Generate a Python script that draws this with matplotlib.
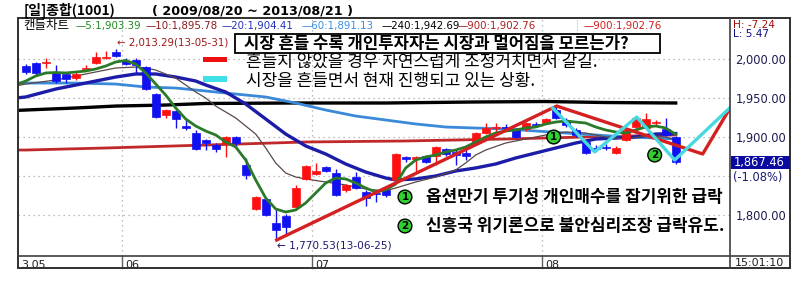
import numpy as np
import matplotlib
matplotlib.use('Agg')
import matplotlib.pyplot as plt
from matplotlib.patches import Rectangle
from matplotlib.lines import Line2D

KR = ['Noto Sans CJK KR', 'DejaVu Sans']
plt.rcParams['font.family'] = KR

W, H = 810, 290

###############################################################################
# daily candles, 2013-05-20 .. 2013-08-21 (index 0..65)
opens = [1991.0, 1994.9, 1994.6, 1983.3, 1980.8, 1975.6, 1986.9, 1994.9, 2001.0, 2009.0,
         1997.4, 1998.7, 1989.7, 1955.1, 1928.2, 1933.3, 1914.1, 1905.1, 1896.2, 1889.7,
         1892.3, 1900.0, 1864.1, 1807.7, 1820.5, 1789.7, 1798.7, 1810.3, 1846.2, 1852.6,
         1861.5, 1853.8, 1832.1, 1848.7, 1829.5, 1828.2, 1832.1, 1844.9, 1874.4, 1871.8,
         1875.6, 1875.6, 1884.6, 1880.8, 1879.5, 1892.3, 1905.1, 1911.5, 1912.8, 1909.0,
         1910.3, 1916.7, 1917.9, 1934.6, 1921.8, 1909.0, 1893.6, 1885.0, 1886.5, 1879.5,
         1896.2, 1912.8, 1911.5, 1917.5, 1910.3, 1900.0]
highs = [1993.6, 1996.2, 2001.3, 1992.3, 1983.3, 1984.6, 1992.3, 2009.0, 2010.3, 2013.29,
         2001.3, 2001.3, 1991.0, 1956.4, 1935.9, 1934.6, 1921.8, 1909.0, 1897.4, 1892.3,
         1901.3, 1901.3, 1873.1, 1824.4, 1821.8, 1809.0, 1801.3, 1838.5, 1864.1, 1866.7,
         1862.8, 1859.0, 1839.7, 1855.1, 1832.1, 1832.1, 1834.6, 1879.5, 1875.6, 1875.6,
         1876.9, 1888.5, 1885.9, 1883.3, 1883.3, 1906.4, 1917.9, 1917.9, 1916.7, 1911.5,
         1919.2, 1919.2, 1924.4, 1938.5, 1924.4, 1911.5, 1894.9, 1889.7, 1891.0, 1888.5,
         1911.5, 1925.6, 1930.8, 1921.8, 1924.4, 1901.3]
lows = [1980.8, 1979.5, 1988.5, 1969.2, 1969.2, 1973.1, 1984.6, 1993.6, 2000.0, 2002.6,
        1992.3, 1982.1, 1960.3, 1924.4, 1924.4, 1911.5, 1909.0, 1883.3, 1883.3, 1880.8,
        1874.4, 1885.9, 1846.2, 1806.4, 1798.7, 1770.53, 1774.4, 1809.0, 1844.9, 1851.3,
        1855.1, 1824.4, 1829.5, 1833.3, 1811.5, 1816.7, 1823.1, 1843.6, 1867.9, 1855.1,
        1866.7, 1864.1, 1875.6, 1864.1, 1870.5, 1891.0, 1903.8, 1905.1, 1907.7, 1898.7,
        1907.7, 1912.8, 1916.7, 1923.1, 1912.8, 1900.0, 1878.2, 1882.1, 1883.3, 1878.2,
        1894.9, 1911.5, 1910.3, 1914.1, 1901.3, 1865.4]
closes = [1983.3, 1982.1, 1995.0, 1971.8, 1974.4, 1980.8, 1987.5, 2002.6, 2001.6, 2003.9,
          1993.6, 1992.3, 1961.5, 1925.6, 1934.6, 1923.1, 1911.5, 1884.6, 1892.3, 1884.6,
          1900.0, 1892.3, 1851.3, 1823.1, 1800.0, 1780.8, 1784.6, 1834.6, 1862.8, 1856.4,
          1856.4, 1825.6, 1838.5, 1834.6, 1821.8, 1826.9, 1825.6, 1878.2, 1871.8, 1874.4,
          1867.9, 1887.2, 1878.2, 1876.9, 1875.6, 1905.1, 1911.5, 1912.8, 1911.5, 1900.0,
          1917.9, 1915.4, 1923.1, 1924.4, 1915.4, 1902.6, 1879.5, 1884.0, 1885.3, 1885.9,
          1909.0, 1924.4, 1923.1, 1918.2, 1902.6, 1867.46]

# moving averages (index, value)
ma5_idx = list(range(-1, 66))
ma5 = [1966.7, 1971.8, 1978.2, 1982.1, 1982.7, 1982.1, 1983.3, 1984.6, 1987.2, 1991.0,
       1996.2, 1998.1, 1993.6, 1982.1, 1968.0, 1953.8, 1937.2, 1923.1, 1914.1, 1907.7,
       1902.6, 1893.6, 1887.2, 1870.5, 1844.9, 1821.8, 1807.7, 1803.8, 1806.4, 1815.4,
       1828.2, 1841.0, 1847.4, 1846.2, 1841.0, 1834.6, 1829.5, 1832.1, 1839.7, 1860.3,
       1870.5, 1874.4, 1876.9, 1880.8, 1883.3, 1887.2, 1893.6, 1900.0, 1905.1, 1907.7,
       1909.0, 1911.5, 1912.8, 1916.7, 1919.2, 1920.5, 1919.2, 1917.9, 1912.8, 1909.0,
       1906.4, 1905.1, 1909.0, 1912.8, 1914.1, 1911.5, 1903.39]
ma10_idx = [-1, 0, 3, 6, 9, 11, 12, 13, 14, 15, 16, 17, 18, 19, 20, 21, 22, 23, 24, 25,
            26, 27, 28, 30, 32, 34, 36, 37, 39, 41, 43, 44, 45, 46, 48, 50, 52, 54, 56,
            58, 60, 62, 64, 65]
ma10 = [1965.4, 1968.0, 1973.1, 1980.8, 1988.5, 1989.7, 1988.5, 1985.9, 1980.8, 1975.6,
        1966.7, 1957.7, 1950.0, 1939.7, 1932.1, 1924.4, 1914.1, 1903.8, 1886.0, 1866.7,
        1853.8, 1848.7, 1846.2, 1842.3, 1838.5, 1833.3, 1830.8, 1834.6, 1842.3, 1848.7,
        1857.7, 1866.7, 1876.9, 1883.3, 1892.3, 1897.4, 1902.6, 1906.4, 1905.1, 1900.0,
        1897.4, 1901.3, 1900.0, 1895.78]
ma20_idx = [-1, 0, 3, 6, 9, 11, 13, 15, 17, 18, 20, 22, 24, 26, 28, 30, 32, 34, 36, 37,
            39, 41, 43, 45, 47, 49, 51, 53, 55, 57, 59, 61, 63, 65]
ma20 = [1950.0, 1951.3, 1961.5, 1969.2, 1976.9, 1980.8, 1980.8, 1976.9, 1971.8, 1966.7,
        1957.7, 1942.3, 1923.1, 1903.8, 1888.5, 1878.2, 1865.4, 1855.1, 1847.4, 1844.9,
        1846.2, 1850.0, 1856.4, 1860.3, 1865.4, 1873.1, 1879.5, 1885.9, 1892.3, 1897.4,
        1898.7, 1900.0, 1903.8, 1904.41]
ma60_idx = [-1, 0, 5, 9, 12, 15, 18, 21, 24, 27, 30, 33, 36, 39, 42, 45, 48, 51, 54, 57,
            60, 63, 65]
ma60 = [1969.2, 1969.2, 1969.2, 1967.9, 1964.1, 1962.8, 1959.0, 1955.1, 1951.3, 1943.6,
        1934.6, 1926.9, 1921.8, 1916.7, 1912.8, 1911.5, 1910.3, 1907.7, 1905.1, 1902.6,
        1900.0, 1898.7, 1897.4]
ma240_idx = [-1, 0, 5, 9, 14, 18, 27, 36, 45, 52, 58, 65]
ma240 = [1934.0, 1934.6, 1937.2, 1939.7, 1941.0, 1943.0, 1943.6, 1943.6, 1944.9, 1945.5,
         1944.2, 1943.6]
ma900_idx = [-1, 0, 8, 18, 28, 38, 48, 56, 65]
ma900 = [1883.3, 1883.3, 1885.9, 1889.7, 1893.6, 1894.9, 1897.4, 1900.0, 1902.6]

# hand-drawn guide lines
red_idx = [25.1, 53.1, 67.7, 70.5]
red_val = [1768.0, 1939.7, 1878.2, 1938.5]
cyan_idx = [52.7, 56.9, 61.1, 64.9, 70.4]
cyan_val = [1937.2, 1880.8, 1925.6, 1870.5, 1937.2]
mark_idx = [52.8, 62.9]
mark_val = [1900.0, 1876.9]

legend_periods = ['5', '10', '20', '60', '240', '900', '900']
legend_values = ['1,903.39', '1,895.78', '1,904.41', '1,891.13', '1,942.69', '1,902.76', '1,902.76']
legend_colors = ['#1f8a1f', '#8b1c1c', '#2233bb', '#3a8ee0', '#000000', '#b02020', '#d02020']
legend_x = [75, 145, 222, 301, 382, 457, 583]

month_labels = ['3.05', '06', '07', '08']
month_start = [0, 10, 29, 52]
price_ticks = [1800, 1850, 1900, 1950, 2000]
price_labels = ['1,800.00', '', '1,900.00', '1,950.00', '2,000.00']

###############################################################################

def fx(x):
    return x / W

def fy(y):
    return 1 - y / H

fig = plt.figure(figsize=(8.1, 2.9), dpi=100)
fig.patch.set_facecolor('white')

ax = fig.add_axes([fx(18), fy(256), (730 - 18) / W, (256 - 18) / H])
ax.set_xlim(-0.77, 70.43)
ax.set_ylim(1747.4, 2052.6)
for s in ax.spines.values():
    s.set_visible(False)

# grid
ax.set_yticks(price_ticks)
ax.set_yticklabels(price_labels)
ax.yaxis.tick_right()
ax.tick_params(axis='y', length=0, pad=4, labelsize=8.3, labelcolor='#1c1c50')
for lab in ax.get_yticklabels():
    lab.set_family('DejaVu Sans')
grid_x = [m - 0.37 for m in month_start[1:]]
ax.set_xticks(grid_x)
ax.set_xticklabels([])
ax.tick_params(axis='x', length=0)
ax.grid(True, linestyle=(0, (1, 3)), color='#a8a8a8', linewidth=0.9)

# moving averages
ax.plot(ma900_idx, ma900, color='#c0282a', lw=2.0, zorder=2)
ax.plot(ma240_idx, ma240, color='#000000', lw=2.4, zorder=2)
ax.plot(ma60_idx, ma60, color='#3a8ad8', lw=2.0, zorder=2)
ax.plot(ma20_idx, ma20, color='#1c1ca8', lw=2.4, zorder=2)
ax.plot(ma10_idx, ma10, color='#5a4848', lw=0.9, zorder=2)

# candles
idx = np.arange(len(opens))
o = np.array(opens); c = np.array(closes)
up = c >= o
cols = np.where(up, '#ff1010', '#1010f0')
ax.vlines(idx, lows, highs, colors=cols, lw=1.0, zorder=3)
body_lo = np.minimum(o, c)
body_h = np.maximum(np.abs(c - o), 1.3)
ax.bar(idx, body_h, bottom=body_lo, width=0.8, color=cols, edgecolor=cols, lw=0.5, zorder=4)

ax.plot(ma5_idx, ma5, color='#2a7a2a', lw=2.0, zorder=5)

# guide lines
ax.plot(red_idx, red_val, color='#d42020', lw=2.4, zorder=6)
ax.plot(cyan_idx, cyan_val, color='#48d8e0', lw=2.4, zorder=6)
for k, (mx, mv) in enumerate(zip(mark_idx, mark_val)):
    ax.text(mx, mv, str(k + 1), ha='center', va='center', fontsize=7.5, fontweight='bold',
            family='DejaVu Sans', zorder=8,
            bbox=dict(boxstyle='circle,pad=0.18', fc='#30d030', ec='black', lw=1.0))

# high / low annotations
ih = int(np.argmax(highs)); il = int(np.argmin(lows))
ax.annotate('\u2190 2,013.29(13-05-31)', xy=(ih, highs[ih]), xytext=(1, 1),
            textcoords='offset points', ha='left', va='bottom', fontsize=7.4,
            color='#a01818', family='DejaVu Sans')
ax.annotate('\u2190 1,770.53(13-06-25)', xy=(il, lows[il]), xytext=(1, -2),
            textcoords='offset points', ha='left', va='top', fontsize=7.6,
            color='#1c1c70', family='DejaVu Sans')

# bottom date labels and separators
for lab, m in zip(month_labels, month_start):
    xx = m - 0.37 if m > 0 else -0.77
    ax.annotate(lab, xy=(xx, 0), xycoords=ax.get_xaxis_transform(), xytext=(2, -3),
                textcoords='offset points', ha='left', va='top', fontsize=8,
                color='#202020', family='DejaVu Sans', annotation_clip=False)
    if m > 0:
        ax.plot([xx, xx], [0, -12 / 238], transform=ax.get_xaxis_transform(),
                color='#606060', lw=1.0, clip_on=False)

# frame
fig.add_artist(Rectangle((fx(18), fy(268)), (790 - 18) / W, (268 - 18) / H,
                         fill=False, ec='#303030', lw=1.4, transform=fig.transFigure))
fig.add_artist(Line2D([fx(730), fx(730)], [fy(18), fy(268)], color='#404040', lw=1.2))
fig.add_artist(Line2D([fx(18), fx(790)], [fy(256), fy(256)], color='#404040', lw=1.2))

# title
fig.text(fx(24), fy(10.5), '[일]종합(1001)', fontsize=10, fontweight='bold', va='center', ha='left')
fig.text(fx(152), fy(11), '( 2009/08/20 ~ 2013/08/21 )', fontsize=9.2, fontweight='bold',
         va='center', ha='left', family='DejaVu Sans')

# legend row
fig.text(fx(23), fy(26), '캔들차트', fontsize=9, va='center', ha='left')
for p, v, col, lx in zip(legend_periods, legend_values, legend_colors, legend_x):
    fig.text(fx(lx), fy(26), '\u2014' + p + ':' + v, fontsize=7.4, va='center', ha='left',
             color=col, family='DejaVu Sans')
fig.add_artist(Line2D([fx(577), fx(577)], [fy(20), fy(32)], color='#b0b0b0', lw=0.8, ls=':'))

fig.text(fx(733), fy(25), 'H: -7.24', fontsize=7.6, va='center', ha='left', color='#a01010',
         family='DejaVu Sans')
fig.text(fx(733), fy(34), 'L: 5.47', fontsize=7.6, va='center', ha='left', color='#101080',
         family='DejaVu Sans')

# current price box
fig.add_artist(Rectangle((fx(731), fy(169)), (790 - 731) / W, 13 / H, fc='#0a0aa0',
                         ec='none', transform=fig.transFigure))
fig.text(fx(734), fy(162.5), '1,867.46', fontsize=8.3, va='center', ha='left', color='white',
         family='DejaVu Sans')
fig.text(fx(733), fy(177), '(-1.08%)', fontsize=8.3, va='center', ha='left', color='#1c1c70',
         family='DejaVu Sans')
fig.text(fx(735), fy(263), '15:01:10', fontsize=8, va='center', ha='left', color='#202020',
         family='DejaVu Sans')

# annotation texts
fig.add_artist(Rectangle((fx(235), fy(53)), (660 - 235) / W, 19 / H, fc='white',
                         ec='black', lw=1.3, transform=fig.transFigure))
fig.text(fx(244), fy(43.5), '시장 흔들 수록 개인투자자는 시장과 멀어짐을 모르는가?', fontsize=12,
         fontweight='bold', va='center', ha='left')
fig.add_artist(Rectangle((fx(203), fy(62)), 24 / W, 5 / H, fc='#ee1010', ec='none',
                         transform=fig.transFigure))
fig.add_artist(Rectangle((fx(203), fy(82)), 24 / W, 6 / H, fc='#40e0e8', ec='none',
                         transform=fig.transFigure))
fig.text(fx(246), fy(62), '흔들지 않았을 경우 자연스럽게 조정거치면서 갈길.', fontsize=12.2,
         va='center', ha='left')
fig.text(fx(246), fy(81), '시장을 흔들면서 현재 진행되고 있는 상황.', fontsize=12.2,
         va='center', ha='left')

notes = ['옵션만기 투기성 개인매수를 잡기위한 급락', '신흥국 위기론으로 불안심리조장 급락유도.']
for k, (t, yy) in enumerate(zip(notes, [197, 226])):
    fig.text(fx(405), fy(yy), str(k + 1), ha='center', va='center', fontsize=7.5,
             fontweight='bold', family='DejaVu Sans',
             bbox=dict(boxstyle='circle,pad=0.18', fc='#30d030', ec='black', lw=1.0))
    fig.text(fx(426), fy(yy), t, fontsize=12.2, fontweight='bold', va='center', ha='left')

fig.savefig('out.png', dpi=100)
